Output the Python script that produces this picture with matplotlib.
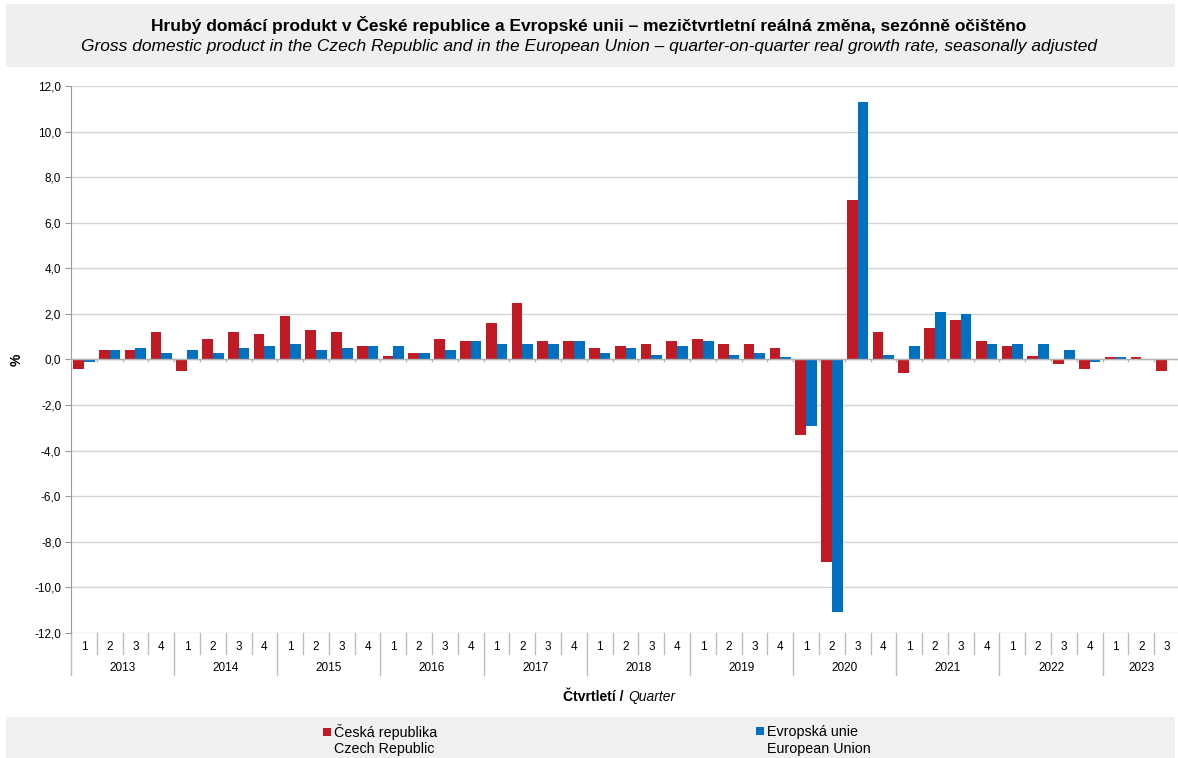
import numpy as np
import matplotlib
matplotlib.use('Agg')
import matplotlib.pyplot as plt
from matplotlib.patches import Rectangle
from matplotlib.transforms import blended_transform_factory

plt.rcParams['font.family'] = ['Liberation Sans', 'DejaVu Sans']

# data (quarter-on-quarter real growth, %)
years = ['2013', '2014', '2015', '2016', '2017', '2018', '2019', '2020', '2021', '2022', '2023']
quarters = ['1', '2', '3', '4'] * 10 + ['1', '2', '3']

cz = [-0.4, 0.4, 0.4, 1.2,
      -0.5, 0.9, 1.2, 1.1,
      1.9, 1.3, 1.2, 0.6,
      0.15, 0.3, 0.9, 0.8,
      1.6, 2.5, 0.8, 0.8,
      0.5, 0.6, 0.7, 0.8,
      0.9, 0.7, 0.7, 0.5,
      -3.3, -8.9, 7.0, 1.2,
      -0.6, 1.4, 1.75, 0.8,
      0.6, 0.15, -0.2, -0.4,
      0.1, 0.1, -0.5]
eu = [-0.1, 0.4, 0.5, 0.3,
      0.4, 0.3, 0.5, 0.6,
      0.7, 0.4, 0.5, 0.6,
      0.6, 0.3, 0.4, 0.8,
      0.7, 0.7, 0.7, 0.8,
      0.3, 0.5, 0.2, 0.6,
      0.8, 0.2, 0.3, 0.1,
      -2.9, -11.1, 11.3, 0.2,
      0.6, 2.1, 2.0, 0.7,
      0.7, 0.7, 0.4, -0.1,
      0.1, 0.0, np.nan]

red = '#C01A24'
blue = '#0070C0'
W, H = 1178, 758

fig = plt.figure(figsize=(W / 100, H / 100), dpi=100)

# title band
fig.patches.append(Rectangle((6 / W, 1 - 67 / H), 1169 / W, 63 / H, transform=fig.transFigure,
                             facecolor='#EFEFEF', edgecolor='none', zorder=0))
fig.text(0.5, 1 - 25 / H, 'Hrubý domácí produkt v České republice a Evropské unii – mezičtvrtletní reálná změna, sezónně očištěno',
         ha='center', va='center', fontsize=12.5, fontweight='bold')
fig.text(0.5, 1 - 47 / H, 'Gross domestic product in the Czech Republic and in the European Union – quarter-on-quarter real growth rate, seasonally adjusted',
         ha='center', va='center', fontsize=12.5, style='italic')

# legend band
fig.patches.append(Rectangle((6 / W, 0), 1169 / W, (H - 717) / H, transform=fig.transFigure,
                             facecolor='#F0F0F0', edgecolor='none', zorder=0))

ax = fig.add_axes([71 / W, 1 - 633 / H, 1109 / W, 547 / H])

x = np.arange(len(cz))
w = 0.415
b_cz = ax.bar(x - w / 2, cz, width=w, color=red, zorder=3, label='Česká republika')
b_eu = ax.bar(x + w / 2, eu, width=w, color=blue, zorder=3, label='Evropská unie')

ax.set_xlim(-0.5, len(cz) - 0.5)
ax.set_ylim(-12, 12)
ax.set_yticks(np.arange(-12, 13, 2))
ax.set_yticklabels([f'{v:.1f}'.replace('.', ',') for v in np.arange(-12, 13, 2)])
ax.yaxis.grid(True, color='#D4D4D4', linewidth=1.0, zorder=0)
ax.set_xticks([])
for s in ['top', 'right', 'bottom']:
    ax.spines[s].set_visible(False)
ax.spines['left'].set_color('#9A9A9A')
ax.tick_params(axis='y', labelsize=8.5, length=4, color='#9A9A9A', pad=3)
ax.set_ylabel('%', fontsize=10, fontweight='bold', labelpad=8)

# zero line with small ticks at category boundaries
ax.axhline(0, color='#B4B4B4', linewidth=1.0, zorder=4)
ax.vlines(np.arange(len(cz) + 1) - 0.5, -0.13, 0, color='#B4B4B4', linewidth=1.0, zorder=4)

# two-level category axis
tr = blended_transform_factory(ax.transData, fig.transFigure)
sep_col = '#BDBDBD'
for i, q in enumerate(quarters):
    ax.text(i, 1 - 647 / H, q, transform=tr, ha='center', va='center', fontsize=8.5)
for i in range(len(cz) + 1):
    bottom = 675 if i % 4 == 0 else 654
    ax.plot([i - 0.5, i - 0.5], [1 - 633 / H, 1 - bottom / H], transform=tr,
            color=sep_col, linewidth=1.0, clip_on=False)
for k, yr in enumerate(years):
    n = min(4, len(cz) - 4 * k)
    ax.text(4 * k + (n - 1) / 2, 1 - 668 / H, yr, transform=tr, ha='center', va='center', fontsize=8.5)

# axis title
xc = 71 / W + 1109 / W / 2
fig.text(xc + 0.002, 1 - 697 / H, 'Čtvrtletí / ', ha='right', va='center', fontsize=10, fontweight='bold')
fig.text(xc + 0.002, 1 - 697 / H, 'Quarter', ha='left', va='center', fontsize=10, style='italic')

# legend
for handle, xl, name_en in [(b_cz, 323, 'Czech Republic'), (b_eu, 756, 'European Union')]:
    fig.legend(handles=[handle], loc='center left', bbox_to_anchor=(xl / W, 1 - 732 / H),
               frameon=False, fontsize=10.3, handlelength=0.55, handleheight=0.55,
               handletextpad=0.2, borderpad=0, borderaxespad=0)
    fig.text((xl + 11) / W, 1 - 749 / H, name_en, ha='left', va='center', fontsize=10.3)

fig.savefig('out.png', dpi=100)
